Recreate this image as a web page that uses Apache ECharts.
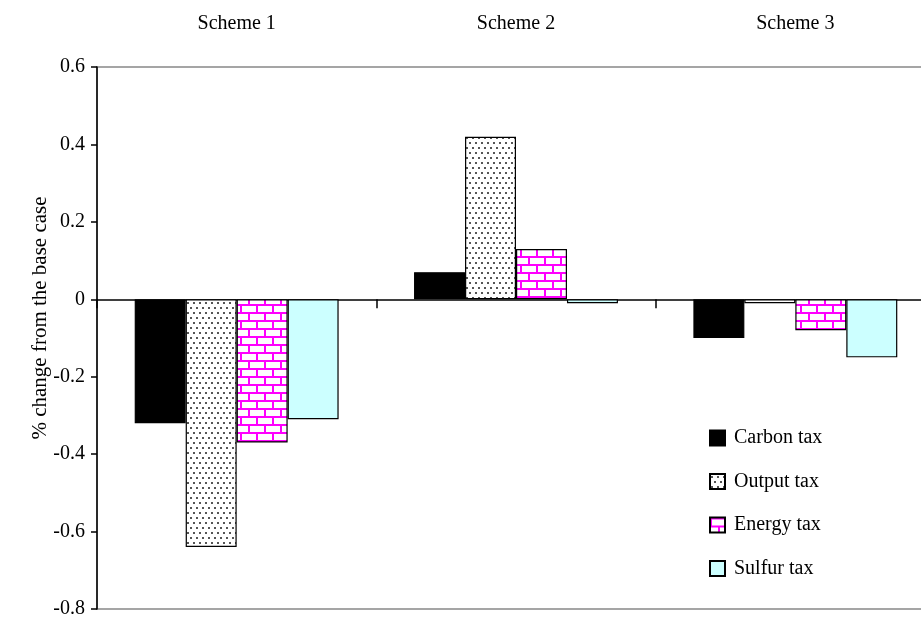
<!DOCTYPE html>
<html>
<head>
<meta charset="utf-8">
<script src="https://cdn.jsdelivr.net/npm/echarts@6/dist/echarts.min.js"></script>
<style>
html,body{margin:0;padding:0;background:#fff;overflow:hidden;width:921px;height:619px;}
#chart{width:945px;height:619px;}
</style>
</head>
<body>
<div id="chart"></div>
<script>
// ---- data ----
const categories = ['Scheme 1', 'Scheme 2', 'Scheme 3'];
const seriesNames = ['Carbon tax', 'Output tax', 'Energy tax', 'Sulfur tax'];
const carbonTax = [-0.32, 0.07, -0.10];
const outputTax = [-0.64, 0.42, -0.01];
const energyTax = [-0.37, 0.13, -0.08];
const sulfurTax = [-0.31, -0.01, -0.15];
const yMin = -0.8, yMax = 0.6, yInterval = 0.2;
const yAxisTitle = '% change from the base case';

// ---- fill patterns ----
function dotsPattern() {
  const c = document.createElement('canvas');
  c.width = 6; c.height = 10;
  const g = c.getContext('2d');
  g.fillStyle = '#fff'; g.fillRect(0, 0, 6, 10);
  g.fillStyle = '#555';
  g.fillRect(1, 2, 2, 2);
  g.fillRect(4, 7, 2, 2);
  return c;
}
function brickPattern() {
  const c = document.createElement('canvas');
  c.width = 16; c.height = 16;
  const g = c.getContext('2d');
  g.fillStyle = '#fff'; g.fillRect(0, 0, 16, 16);
  g.fillStyle = '#ff00ff';
  g.fillRect(0, 0, 16, 2);
  g.fillRect(0, 8, 16, 2);
  g.fillRect(0, 0, 2, 8);
  g.fillRect(8, 8, 2, 8);
  return c;
}

const fills = [
  '#000000',
  { image: dotsPattern(), repeat: 'repeat' },
  { image: brickPattern(), repeat: 'repeat' },
  '#ccffff'
];
const values = [carbonTax, outputTax, energyTax, sulfurTax];
const FONT = 'Liberation Serif';

const chart = echarts.init(document.getElementById('chart'), null, { renderer: 'canvas' });
chart.setOption({
  animation: false,
  backgroundColor: '#fff',
  grid: {
    left: 97, top: 67, width: 838, height: 542,
    show: true, borderColor: '#888', borderWidth: 1.5, backgroundColor: 'transparent'
  },
  legend: {
    orient: 'vertical',
    left: 704, top: 423,
    itemWidth: 15, itemHeight: 15, itemGap: 23.5,
    icon: 'rect',
    data: seriesNames,
    textStyle: { fontFamily: FONT, fontSize: 20, color: '#000', padding: [0, 0, 0, 4] }
  },
  xAxis: [
    {
      type: 'category', data: categories,
      axisLine: { onZero: true, lineStyle: { color: '#000', width: 1.5 } },
      axisTick: { show: true, length: 9, lineStyle: { color: '#000', width: 1.5 } },
      axisLabel: { show: false },
      splitLine: { show: false }
    },
    {
      type: 'category', data: categories, position: 'top',
      axisLine: { show: false }, axisTick: { show: false },
      axisLabel: { show: true, margin: 33, fontFamily: FONT, fontSize: 20, color: '#000' },
      splitLine: { show: false }
    }
  ],
  yAxis: {
    type: 'value', min: yMin, max: yMax, interval: yInterval,
    axisLine: { show: true, lineStyle: { color: '#000', width: 1.5 } },
    axisTick: { show: true, length: 6, lineStyle: { color: '#000', width: 1.5 } },
    splitLine: { show: false },
    axisLabel: {
      margin: 12, fontFamily: FONT, fontSize: 20, color: '#000',
      formatter: v => Math.abs(v) < 1e-9 ? '0' : v.toFixed(1)
    }
  },
  graphic: [{
    type: 'text', x: 40, y: 318, rotation: Math.PI / 2,
    style: { text: yAxisTitle, fontFamily: FONT, fontSize: 21, fill: '#000', textAlign: 'center', textVerticalAlign: 'middle' }
  }],
  series: seriesNames.map((name, i) => ({
    name, type: 'bar', data: values[i], xAxisIndex: 0,
    barGap: '0%', barCategoryGap: '27%',
    itemStyle: { color: fills[i], borderColor: '#000', borderWidth: 1.2 }
  }))
});
</script>
</body>
</html>
